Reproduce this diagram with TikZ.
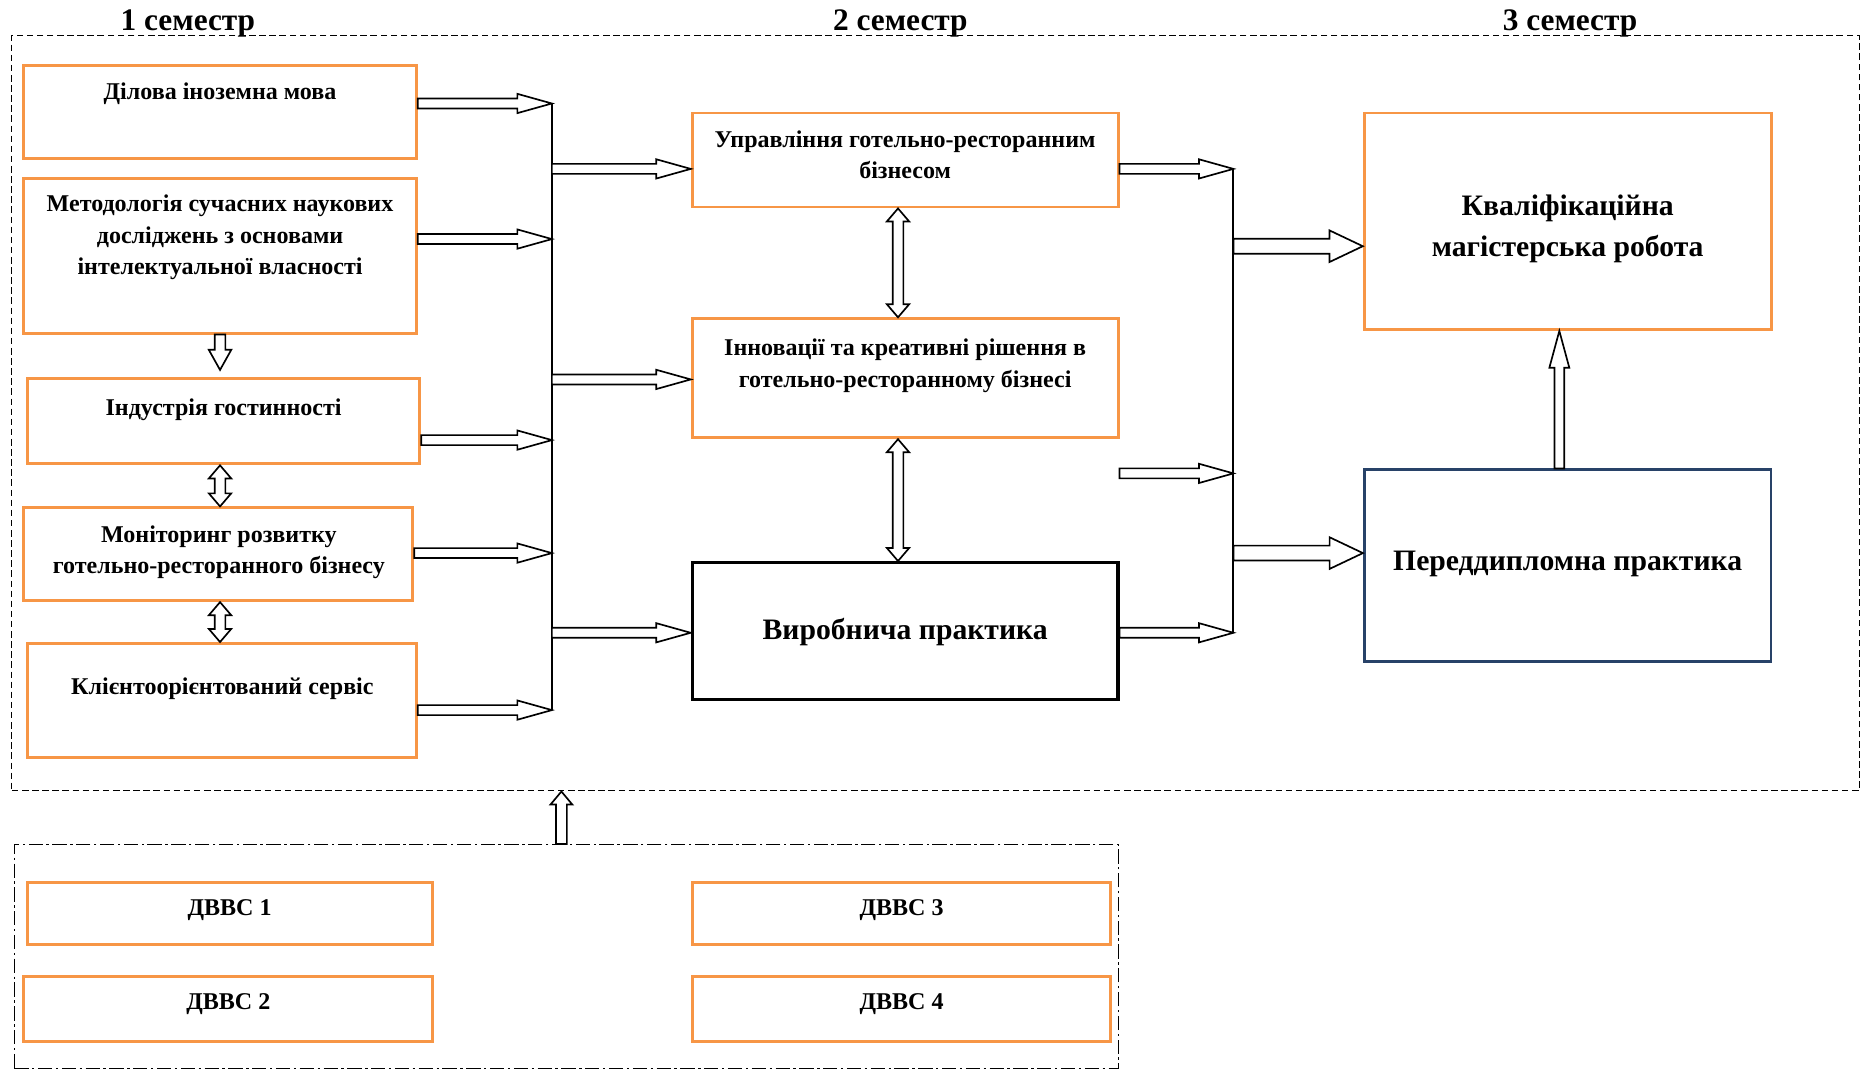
\documentclass[tikz,border=0pt]{standalone}
\usepackage{fontspec}
\setmainfont{Liberation Serif}
\usepackage{tikz}
\usetikzlibrary{calc,fit}

\definecolor{boxorange}{HTML}{F79646}
\definecolor{boxnavy}{RGB}{40,66,104}

\begin{document}
\begin{tikzpicture}[x=0.2mm,y=-0.2mm,
	obox/.style={draw=boxorange,line width=1.4pt,inner sep=0pt},
	kbox/.style={draw=black,line width=1.5pt,inner sep=0pt},
	nbox/.style={draw=boxnavy,line width=1.3pt,inner sep=0pt},
	txt/.style={align=center,inner sep=0pt,font=\bfseries\fontsize{11.5}{15}\selectfont},
	btxt/.style={align=center,inner sep=0pt,font=\bfseries\fontsize{14.2}{19.5}\selectfont},
	sem/.style={anchor=base,inner sep=0pt,font=\bfseries\fontsize{15}{18}\selectfont},
	bus/.style={line width=0.9pt},
	barrow/.style n args={3}{draw,fill=white,line width=0.8pt,
		to path={($(\tikztotarget)!#3!(\tikztostart)$) coordinate (ah)
			($(\tikztostart)!#1!90:(\tikztotarget)$) -- ($(ah)!#1!90:(\tikztotarget)$)
			-- ($(ah)!#2!90:(\tikztotarget)$) -- (\tikztotarget)
			-- ($(ah)!#2!-90:(\tikztotarget)$) -- ($(ah)!#1!-90:(\tikztotarget)$)
			-- ($(\tikztostart)!#1!-90:(\tikztotarget)$) -- cycle}},
	darrow/.style n args={3}{draw,fill=white,line width=0.8pt,
		to path={($(\tikztostart)!#3!(\tikztotarget)$) coordinate (ha)
			($(\tikztotarget)!#3!(\tikztostart)$) coordinate (hb)
			(\tikztostart) -- ($(ha)!#2!90:(\tikztotarget)$) -- ($(ha)!#1!90:(\tikztotarget)$)
			-- ($(hb)!#1!90:(\tikztotarget)$) -- ($(hb)!#2!90:(\tikztotarget)$) -- (\tikztotarget)
			-- ($(hb)!#2!-90:(\tikztotarget)$) -- ($(hb)!#1!-90:(\tikztotarget)$)
			-- ($(ha)!#1!-90:(\tikztotarget)$) -- ($(ha)!#2!-90:(\tikztotarget)$) -- cycle}},
	harr/.style={barrow={0.84mm}{1.62mm}{5.8mm}},
	bigarr/.style={barrow={1.26mm}{2.66mm}{5.6mm}},
	uparr/.style={barrow={0.82mm}{1.68mm}{6.2mm}},
	downarr/.style={barrow={0.9mm}{1.9mm}{3.4mm}},
	smallup/.style={barrow={0.92mm}{1.84mm}{2.2mm}},
	dbl/.style={darrow={0.9mm}{1.88mm}{2.2mm}}
]

\useasboundingbox (0,0) rectangle (1568,900);

% frames
\node[draw,line width=0.5pt,dash pattern=on 1.1mm off 0.6mm,inner sep=0pt,fit={(10,30) (1563,665)}] (plan) {};
\node[draw,line width=0.5pt,dash pattern=on 2.4mm off 0.6mm on 0.4mm off 0.6mm,inner sep=0pt,fit={(12,710) (940,898)}] (elect) {};

\node[sem] (sem1) at (158,26) {1 семестр};
\node[sem] (sem2) at (757,26) {2 семестр};
\node[sem] (sem3) at (1320,26) {3 семестр};

% 1 semestr
\node[obox,fit={(20,55) (350,133)}] (dilova) {};
\node[txt] (dilova-t) at (185,79) {Ділова іноземна мова};
\node[obox,fit={(20,150) (350,280)}] (metod) {};
\node[txt] (metod-t) at (185,199.5) {Методологія сучасних наукових\\досліджень з основами\\інтелектуальної власності};
\node[obox,fit={(23,318) (353,390)}] (indus) {};
\node[txt] (indus-t) at (188,344.5) {Індустрія гостинності};
\node[obox,fit={(20,427) (347,505)}] (monit) {};
\node[txt] (monit-t) at (184,464.5) {Моніторинг розвитку\\готельно-ресторанного бізнесу};
\node[obox,fit={(23,541) (350,637)}] (klient) {};
\node[txt] (klient-t) at (187,579) {Клієнтоорієнтований сервіс};

% 2 semestr
\node[obox,fit={(582,95) (940,174)}] (upr) {};
\node[txt] (upr-t) at (761,130) {Управління готельно-ресторанним\\бізнесом};
\node[obox,fit={(582,268) (940,368)}] (innov) {};
\node[txt] (innov-t) at (761,307.5) {Інновації та креативні рішення в\\готельно-ресторанному бізнесі};
\node[kbox,fit={(582,473) (940,588)}] (vyrob) {};
\node[btxt] (vyrob-t) at (761,531.5) {Виробнича практика};

% 3 semestr
\node[obox,fit={(1147,95) (1489,277)}] (kval) {};
\node[btxt] (kval-t) at (1318,192.5) {Кваліфікаційна\\магістерська робота};
\node[nbox,fit={(1147,395) (1489,556)}] (pered) {};
\node[btxt] (pered-t) at (1318,474.5) {Переддипломна практика};

% vybirkovi
\node[obox,fit={(23,742) (364,794)}] (dv1) {};
\node[txt] (dv1-t) at (193,765) {ДВВС 1};
\node[obox,fit={(20,821) (364,876)}] (dv2) {};
\node[txt] (dv2-t) at (192,844) {ДВВС 2};
\node[obox,fit={(582,742) (934,794)}] (dv3) {};
\node[txt] (dv3-t) at (758,765) {ДВВС 3};
\node[obox,fit={(582,821) (934,876)}] (dv4) {};
\node[txt] (dv4-t) at (758,844) {ДВВС 4};

% shyny
\coordinate (p1) at (464,87);  \coordinate (p2) at (464,201);
\coordinate (p3) at (464,370); \coordinate (p4) at (464,465);
\coordinate (p5) at (464,597);
\coordinate (q1) at (464,142); \coordinate (q2) at (464,319);
\coordinate (q3) at (464,532);
\coordinate (r1) at (1037,142); \coordinate (r2) at (1037,398);
\coordinate (r3) at (1037,532);
\coordinate (t1) at (1037,207); \coordinate (t2) at (1037,465);
\coordinate (m3) at (185,311);  \coordinate (ud) at (755,0);
\coordinate (pk) at (1311,0);   \coordinate (ua) at (472,0);

\draw[bus] (p1) -- (p5);
\draw[bus] (r1) -- (r3);

\draw[harr] (dilova.east |- p1) to (p1);
\draw[harr] (metod.east |- p2) to (p2);
\draw[harr] (indus.east |- p3) to (p3);
\draw[harr] (monit.east |- p4) to (p4);
\draw[harr] (klient.east |- p5) to (p5);

\draw[harr] (q1) to (upr.west |- q1);
\draw[harr] (q2) to (innov.west |- q2);
\draw[harr] (q3) to (vyrob.west |- q3);

\draw[harr] (upr.east |- r1) to (r1);
\draw[harr] (innov.east |- r2) to (r2);
\draw[harr] (vyrob.east |- r3) to (r3);

\draw[bigarr] (t1) to (kval.west |- t1);
\draw[bigarr] (t2) to (pered.west |- t2);

\draw[downarr] (metod.south -| m3) to (m3);
\draw[dbl] (indus.south -| m3) to (monit.north -| m3);
\draw[dbl] (monit.south -| m3) to (klient.north -| m3);
\draw[dbl] (upr.south -| ud) to (innov.north -| ud);
\draw[dbl] (innov.south -| ud) to (vyrob.north -| ud);
\draw[uparr] (pered.north -| pk) to (kval.south -| pk);
\draw[smallup] (elect.north -| ua) to (plan.south -| ua);

\end{tikzpicture}
\end{document}
